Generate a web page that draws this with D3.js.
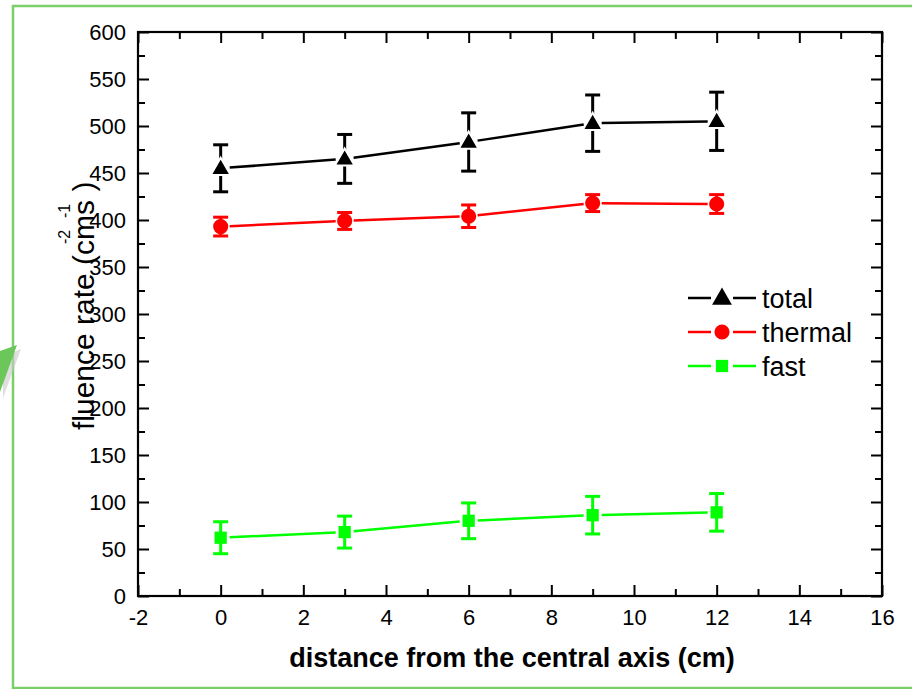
<!DOCTYPE html>
<html>
<head>
<meta charset="utf-8">
<script src="https://cdn.jsdelivr.net/npm/d3@7"></script>
<style>
  body { margin: 0; background: #fff; }
  svg { display: block; font-family: Arial, "Liberation Sans", sans-serif; }
</style>
</head>
<body>
<div id="chart"></div>
<script>
// data
var distance = [0, 3, 6, 9, 12];
var totalRate = [455, 465, 483, 503, 505];
var totalErr = [25, 26, 31, 30, 31];
var thermalRate = [393, 399, 404, 418, 417];
var thermalErr = [10, 9, 12, 9, 10];
var fastRate = [62, 68, 80, 86, 89];
var fastErr = [17, 17, 19, 20, 20];
var seriesNames = ["total", "thermal", "fast"];
var xTicks = [-2, 0, 2, 4, 6, 8, 10, 12, 14, 16];
var yTicks = [0, 50, 100, 150, 200, 250, 300, 350, 400, 450, 500, 550, 600];

var width = 912, height = 689;
var plotLeft = 138, plotRight = 882, plotTop = 32, plotBottom = 596;

var svg = d3.select("#chart").append("svg")
    .attr("width", width)
    .attr("height", height);

// green frame + arrow from the slide
svg.append("rect")
    .attr("x", 13).attr("y", 6)
    .attr("width", 920).attr("height", 682)
    .attr("fill", "none")
    .attr("stroke", "#7ccf68")
    .attr("stroke-width", 2.5);
svg.append("polygon")
    .attr("points", "21,349 3,356 3,398")
    .attr("fill", "#c8c8c8")
    .attr("opacity", 0.6);
svg.append("polygon")
    .attr("points", "17,345 0,351 0,392")
    .attr("fill", "#6cc75a");

var x = d3.scaleLinear().domain([-2, 16]).range([plotLeft, plotRight]);
var y = d3.scaleLinear().domain([0, 600]).range([plotBottom, plotTop]);

var xMinor = d3.range(-1, 16, 2);
var yMinor = d3.range(25, 600, 50);
var plain = function(d) { return String(d); };

function styleAxis(g) {
    g.select(".domain").remove();
    g.selectAll("line").attr("stroke", "#000").attr("stroke-width", 2);
    g.selectAll("text").attr("fill", "#000").style("font-size", "22px");
}

svg.append("g")
    .attr("transform", "translate(0," + plotBottom + ")")
    .call(d3.axisBottom(x).tickValues(xTicks).tickSize(-11).tickPadding(13).tickFormat(plain))
    .call(styleAxis);
svg.append("g")
    .attr("transform", "translate(0," + plotBottom + ")")
    .call(d3.axisBottom(x).tickValues(xMinor).tickSize(-7).tickFormat(""))
    .call(styleAxis);
svg.append("g")
    .attr("transform", "translate(0," + plotTop + ")")
    .call(d3.axisTop(x).tickValues(xTicks).tickSize(-11).tickFormat(""))
    .call(styleAxis);
svg.append("g")
    .attr("transform", "translate(0," + plotTop + ")")
    .call(d3.axisTop(x).tickValues(xMinor).tickSize(-7).tickFormat(""))
    .call(styleAxis);

svg.append("g")
    .attr("transform", "translate(" + plotLeft + ",0)")
    .call(d3.axisLeft(y).tickValues(yTicks).tickSize(-11).tickPadding(12).tickFormat(plain))
    .call(styleAxis);
svg.append("g")
    .attr("transform", "translate(" + plotLeft + ",0)")
    .call(d3.axisLeft(y).tickValues(yMinor).tickSize(-7).tickFormat(""))
    .call(styleAxis);
svg.append("g")
    .attr("transform", "translate(" + plotRight + ",0)")
    .call(d3.axisRight(y).tickValues(yTicks).tickSize(-11).tickFormat(""))
    .call(styleAxis);
svg.append("g")
    .attr("transform", "translate(" + plotRight + ",0)")
    .call(d3.axisRight(y).tickValues(yMinor).tickSize(-7).tickFormat(""))
    .call(styleAxis);

svg.append("rect")
    .attr("x", plotLeft).attr("y", plotTop)
    .attr("width", plotRight - plotLeft).attr("height", plotBottom - plotTop)
    .attr("fill", "none")
    .attr("stroke", "#000")
    .attr("stroke-width", 2.2);

// axis titles
svg.append("text")
    .attr("x", 512).attr("y", 667)
    .attr("text-anchor", "middle")
    .style("font-size", "27px")
    .style("font-weight", "bold")
    .text("distance from the central axis (cm)");

var yTitle = svg.append("g").attr("transform", "translate(94,430) rotate(-90)");
yTitle.append("text")
    .attr("x", 0).attr("y", 0)
    .style("font-size", "30px")
    .text("fluence rate (cms )");
yTitle.append("text")
    .attr("x", 186).attr("y", -24)
    .style("font-size", "16px")
    .text("-2");
yTitle.append("text")
    .attr("x", 212).attr("y", -24)
    .style("font-size", "16px")
    .text("-1");

// markers
var triangle = d3.symbol().type(d3.symbolTriangle).size(170);
var circle = d3.symbol().type(d3.symbolCircle).size(180);
var square = d3.symbol().type(d3.symbolSquare).size(150);

var series = [
    { name: seriesNames[0], vals: totalRate, err: totalErr, color: "#000000", sym: triangle, dy: 1 },
    { name: seriesNames[1], vals: thermalRate, err: thermalErr, color: "#ff0000", sym: circle, dy: 0 },
    { name: seriesNames[2], vals: fastRate, err: fastErr, color: "#00ff00", sym: square, dy: 0 }
];

var gap = 9;

series.forEach(function(s) {
    var g = svg.append("g");
    var pts = distance.map(function(d, i) { return [x(d), y(s.vals[i])]; });

    // connecting line, broken around each marker
    for (var i = 0; i < pts.length - 1; i++) {
        var p1 = pts[i], p2 = pts[i + 1];
        var dx = p2[0] - p1[0], dy = p2[1] - p1[1];
        var len = Math.sqrt(dx * dx + dy * dy);
        g.append("line")
            .attr("x1", p1[0] + dx / len * gap).attr("y1", p1[1] + dy / len * gap)
            .attr("x2", p2[0] - dx / len * gap).attr("y2", p2[1] - dy / len * gap)
            .attr("stroke", s.color)
            .attr("stroke-width", 2.5);
    }

    // error bars
    distance.forEach(function(d, i) {
        var cx = x(d);
        var y1 = y(s.vals[i] + s.err[i]), y2 = y(s.vals[i] - s.err[i]);
        g.append("line")
            .attr("x1", cx).attr("x2", cx).attr("y1", y1).attr("y2", y2)
            .attr("stroke", s.color).attr("stroke-width", 3);
        [y1, y2].forEach(function(yy) {
            g.append("line")
                .attr("x1", cx - 7.5).attr("x2", cx + 7.5).attr("y1", yy).attr("y2", yy)
                .attr("stroke", s.color).attr("stroke-width", 3);
        });
    });

    g.selectAll("path.mark")
        .data(pts)
        .enter().append("path")
        .attr("class", "mark")
        .attr("d", s.sym)
        .attr("transform", function(p) { return "translate(" + p[0] + "," + (p[1] + s.dy) + ")"; })
        .attr("fill", s.color)
        .attr("stroke", s.name === "total" ? "#fff" : "none")
        .attr("stroke-width", 2);
});

// legend
var legend = svg.append("g").attr("transform", "translate(688,298)");
series.forEach(function(s, i) {
    var row = legend.append("g").attr("transform", "translate(0," + (i * 34) + ")");
    row.append("line").attr("x1", 0).attr("x2", 23).attr("y1", 0).attr("y2", 0)
        .attr("stroke", s.color).attr("stroke-width", 2.5);
    row.append("line").attr("x1", 45).attr("x2", 68).attr("y1", 0).attr("y2", 0)
        .attr("stroke", s.color).attr("stroke-width", 2.5);
    row.append("path")
        .attr("d", s.sym)
        .attr("transform", "translate(34," + s.dy + ")")
        .attr("fill", s.color);
    row.append("text")
        .attr("x", 74).attr("y", 10)
        .style("font-size", "27px")
        .text(s.name);
});
</script>
</body>
</html>
